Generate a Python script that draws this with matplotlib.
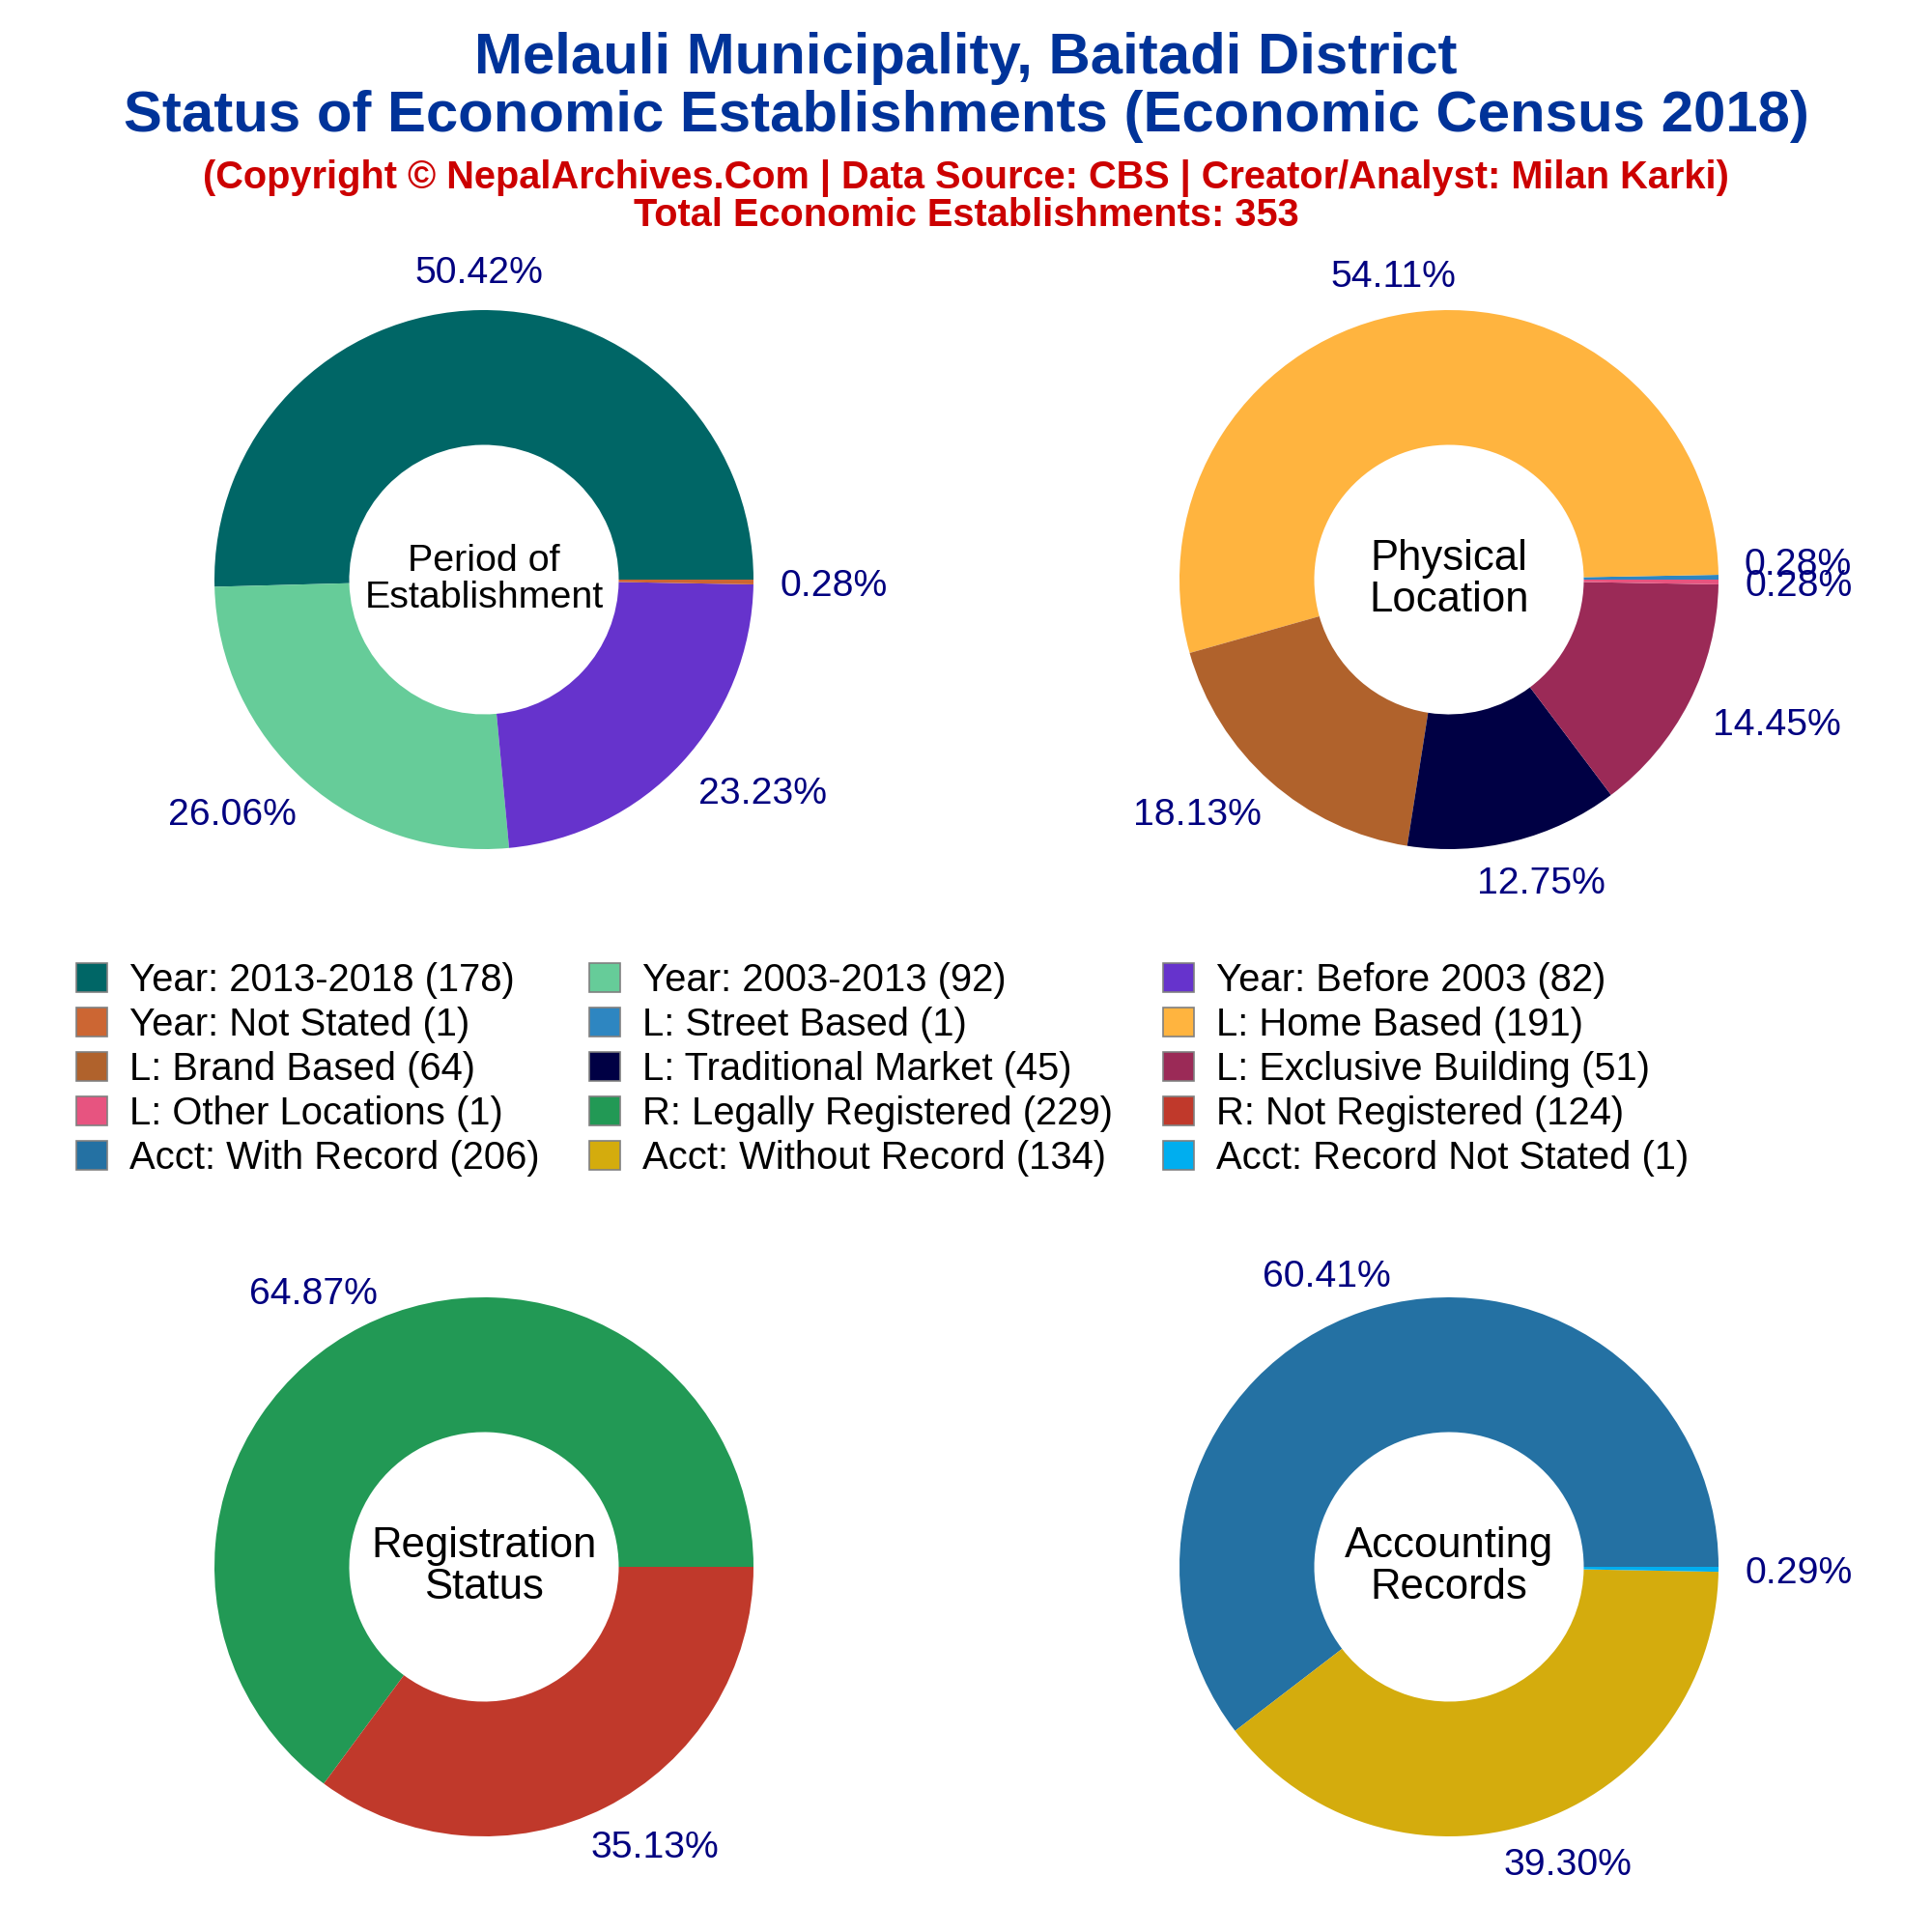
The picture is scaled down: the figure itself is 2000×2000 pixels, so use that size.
#!/usr/bin/env python3
"""Donut charts of economic establishments, Melauli Municipality (Economic Census 2018)."""

import numpy as np
import matplotlib
matplotlib.use("Agg")
import matplotlib.pyplot as plt
from matplotlib.patches import Patch

plt.rcParams["font.family"] = ["Liberation Sans", "DejaVu Sans"]

# Counts per panel
year_names = ["Year: 2013-2018", "Year: 2003-2013", "Year: Before 2003", "Year: Not Stated"]
year_counts = [178, 92, 82, 1]
year_colors = ["#006666", "#66CC99", "#6633CC", "#CC6633"]

loc_names = ["L: Street Based", "L: Home Based", "L: Brand Based",
             "L: Traditional Market", "L: Exclusive Building", "L: Other Locations"]
loc_counts = [1, 191, 64, 45, 51, 1]
loc_colors = ["#2E86C1", "#FFB43F", "#B0622C", "#000044", "#9B2A57", "#E75480"]

reg_names = ["R: Legally Registered", "R: Not Registered"]
reg_counts = [229, 124]
reg_colors = ["#229955", "#C0392B"]

acct_names = ["Acct: With Record", "Acct: Without Record", "Acct: Record Not Stated"]
acct_counts = [206, 134, 1]
acct_colors = ["#2471A3", "#D4AC0D", "#00AEEF"]

TOTAL = 353
PX = 2000.0
RADIUS_PX = 279


def donut(cx, cy, counts, colors, center_label, center_size=15.7, nudge=None):
    """Draw a donut centred on pixel (cx, cy), with percent labels outside the ring."""
    nudge = nudge or {}
    ax = fig.add_axes([(cx - RADIUS_PX) / PX, 1 - (cy + RADIUS_PX) / PX,
                       2 * RADIUS_PX / PX, 2 * RADIUS_PX / PX])
    wedges, _ = ax.pie(counts, colors=colors, startangle=0, counterclock=True,
                       radius=1.0, wedgeprops=dict(width=0.5, linewidth=0))
    ax.set_xlim(-1, 1)
    ax.set_ylim(-1, 1)
    total = sum(counts)
    for i, (w, n) in enumerate(zip(wedges, counts)):
        ang = np.deg2rad((w.theta1 + w.theta2) / 2)
        txt = f"{100 * n / total:.2f}%"
        # wider labels sit further out so their inner edge clears the ring
        extra_x = 31 if len(txt) > 5 else 20
        dx, dy = nudge.get(i, (0, 0))
        ax.annotate(txt, (1.1 * np.cos(ang), 1.1 * np.sin(ang)),
                    xytext=(extra_x * np.cos(ang) + dx, 5 * np.sin(ang) - 1.5 + dy),
                    textcoords="offset points", ha="center", va="center",
                    fontsize=14.1, color="#000080", annotation_clip=False)
    ax.text(0, 0, center_label, ha="center", va="center", fontsize=center_size,
            color="black", linespacing=1.05)


fig = plt.figure(figsize=(10, 10), dpi=200, facecolor="white")

fig.text(0.5, 1 - 76 / PX, "Melauli Municipality, Baitadi District", ha="center", va="baseline",
         fontsize=21.55, fontweight="bold", color="#003399")
fig.text(0.5, 1 - 136 / PX, "Status of Economic Establishments (Economic Census 2018)",
         ha="center", va="baseline", fontsize=21.55, fontweight="bold", color="#003399")
fig.text(0.5, 1 - 195 / PX,
         "(Copyright © NepalArchives.Com | Data Source: CBS | Creator/Analyst: Milan Karki)",
         ha="center", va="baseline", fontsize=14.3, fontweight="bold", color="#CC0000")
fig.text(0.5, 1 - 234 / PX, f"Total Economic Establishments: {TOTAL}",
         ha="center", va="baseline", fontsize=14.3, fontweight="bold", color="#CC0000")

donut(501, 600, year_counts, year_colors, "Period of\nEstablishment", center_size=14.2)
# the two 0.28% labels collide at the right edge, as they do in the source chart
donut(1500, 600, loc_counts, loc_colors, "Physical\nLocation",
      nudge={0: (-0.5, 6), 4: (-3.7, -0.5)})
donut(501, 1622, reg_counts, reg_colors, "Registration\nStatus")
donut(1500, 1622, acct_counts, acct_colors, "Accounting\nRecords")

names = year_names + loc_names + reg_names + acct_names
counts = year_counts + loc_counts + reg_counts + acct_counts
colors = year_colors + loc_colors + reg_colors + acct_colors
handles = [Patch(facecolor=c, edgecolor="#808080", linewidth=0.6, label=f"{n} ({k})")
           for n, k, c in zip(names, counts, colors)]

# 5 rows of 3, filled row by row: matplotlib fills by column, so reorder
nrows = 5
order = [r * 3 + c for c in range(3) for r in range(nrows)]
fig.legend([handles[i] for i in order], [handles[i].get_label() for i in order],
           loc="upper left", bbox_to_anchor=(79 / PX, 1 - 996 / PX), ncol=3, frameon=False,
           fontsize=14.4, borderaxespad=0, borderpad=0, handlelength=0.8, handleheight=0.8,
           handletextpad=0.57, columnspacing=1.3, labelspacing=0.2)

fig.savefig("out.png", dpi=200, facecolor="white")
